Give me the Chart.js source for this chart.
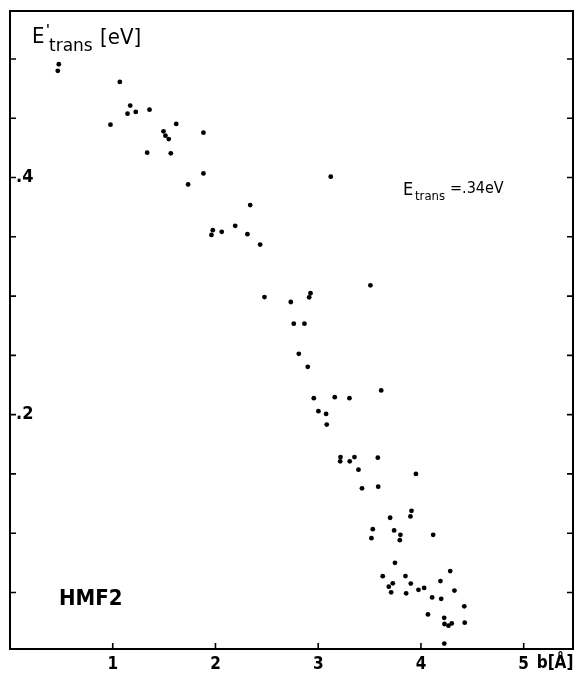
<!DOCTYPE html>
<html>
<head>
<meta charset="utf-8">
<script src="https://cdn.jsdelivr.net/npm/chart.js@4/dist/chart.umd.min.js"></script>
<style>
  html, body { margin: 0; padding: 0; background: #fff; }
  canvas { display: block; }
</style>
</head>
<body>
<canvas id="chart" width="577" height="678"></canvas>
<script>
// impact parameter b [Å]
const bValues = [
  0.475, 0.465, 1.069, 1.170, 1.144, 1.224, 1.358, 0.978, 1.618, 1.494,
  1.513, 1.545, 1.883, 1.335, 1.565, 1.883, 1.734, 2.338, 1.974, 1.961,
  2.061, 2.192, 2.311, 2.435, 3.122, 3.508, 2.477, 2.733, 2.925, 2.912,
  2.762, 2.866, 2.811, 2.898, 3.613, 2.957, 3.161, 3.304, 3.002, 3.077,
  3.083, 3.217, 3.214, 3.307, 3.353, 3.580, 3.392, 3.951, 3.426, 3.584,
  3.908, 3.898, 3.700, 3.531, 3.518, 3.739, 3.800, 3.794, 4.119, 3.747,
  3.628, 3.849, 3.726, 3.687, 3.710, 3.901, 3.856, 3.976, 4.031, 4.190,
  4.285, 4.326, 4.109, 4.197, 4.422, 4.068, 4.226, 4.229, 4.268, 4.300,
  4.426, 4.227
];
// final translational energy E'trans [eV]
const eValues = [
  0.4956, 0.4900, 0.4807, 0.4607, 0.4539, 0.4554, 0.4573, 0.4446, 0.4452, 0.4390,
  0.4353, 0.4325, 0.4379, 0.4210, 0.4204, 0.4035, 0.3942, 0.3768, 0.3556, 0.3516,
  0.3542, 0.3593, 0.3522, 0.3435, 0.4007, 0.3091, 0.2992, 0.2950, 0.3024, 0.2990,
  0.2767, 0.2767, 0.2513, 0.2403, 0.2204, 0.2139, 0.2147, 0.2139, 0.2029, 0.2006,
  0.1916, 0.1642, 0.1606, 0.1606, 0.1642, 0.1637, 0.1536, 0.1500, 0.1378, 0.1392,
  0.1189, 0.1141, 0.1130, 0.1034, 0.0958, 0.1023, 0.0986, 0.0941, 0.0986, 0.0750,
  0.0637, 0.0638, 0.0577, 0.0549, 0.0501, 0.0575, 0.0493, 0.0522, 0.0538, 0.0596,
  0.0680, 0.0516, 0.0458, 0.0446, 0.0383, 0.0315, 0.0286, 0.0234, 0.0220, 0.0239,
  0.0245, 0.0069
];
const xTicks = [1, 2, 3, 4, 5];
const xTickLabels = ['1', '2', '3', '4', '5'];
const yTicks = [0.05, 0.10, 0.15, 0.20, 0.25, 0.30, 0.35, 0.40, 0.45, 0.50];
const yTickLabels = ['', '', '', '.2', '', '', '', '.4', '', ''];

const FONT = "'DejaVu Sans Condensed', 'DejaVu Sans', sans-serif";
const FONT_WIDE = "'DejaVu Sans', sans-serif";

// frame, inward tick marks and the free text of the figure
const framePlugin = {
  id: 'frame',
  afterDraw(chart) {
    const { ctx, chartArea: a, scales: { x, y } } = chart;
    ctx.save();
    ctx.strokeStyle = '#000';
    ctx.lineWidth = 2;
    ctx.strokeRect(a.left, a.top, a.right - a.left, a.bottom - a.top);

    ctx.lineWidth = 1.6;
    y.ticks.forEach(t => {
      const py = y.getPixelForValue(t.value);
      ctx.beginPath();
      ctx.moveTo(a.left, py); ctx.lineTo(a.left + 6, py);
      ctx.moveTo(a.right, py); ctx.lineTo(a.right - 6, py);
      ctx.stroke();
    });
    x.ticks.forEach(t => {
      const px = x.getPixelForValue(t.value);
      ctx.beginPath();
      ctx.moveTo(px, a.bottom); ctx.lineTo(px, a.bottom - 6);
      ctx.stroke();
    });

    ctx.fillStyle = '#000';
    ctx.textBaseline = 'alphabetic';
    ctx.textAlign = 'left';

    // axis unit for b
    ctx.font = 'bold 17px ' + FONT;
    ctx.fillText('b[Å]', x.getPixelForValue(5) + 13, a.bottom + 19);

    // y axis title E'trans [eV]
    ctx.font = '22px ' + FONT;
    ctx.fillText('E', 32, 43);
    ctx.fillText('[eV]', 100, 44);
    ctx.font = 'bold 14px ' + FONT;
    ctx.fillText("'", 46, 34);
    ctx.font = '17px ' + FONT_WIDE;
    ctx.fillText('trans', 49, 51);

    // initial energy annotation
    ctx.font = '18px ' + FONT;
    ctx.fillText('E', 403, 195);
    ctx.font = '13px ' + FONT;
    ctx.fillText('trans', 415, 200);
    ctx.font = '16px ' + FONT;
    ctx.fillText('=.34eV', 450, 193);

    // potential label
    ctx.font = 'bold 22px ' + FONT;
    ctx.fillText('HMF2', 59, 605);
    ctx.restore();
  }
};

new Chart(document.getElementById('chart').getContext('2d'), {
  type: 'scatter',
  data: {
    datasets: [{
      data: bValues.map((b, i) => ({ x: b, y: eValues[i] })),
      backgroundColor: '#000',
      borderColor: '#000',
      pointRadius: 2.4,
      borderWidth: 0
    }]
  },
  options: {
    responsive: false,
    animation: false,
    layout: { padding: { left: 0, right: 3, top: 11, bottom: 0 } },
    plugins: { legend: { display: false }, tooltip: { enabled: false } },
    scales: {
      x: {
        type: 'linear',
        min: 0,
        max: 5.48,
        afterFit: s => { s.height = 29; },
        afterBuildTicks: s => { s.ticks = xTicks.map(v => ({ value: v })); },
        grid: { display: false, drawTicks: false },
        border: { display: false },
        ticks: {
          autoSkip: false,
          maxRotation: 0,
          padding: 5,
          color: '#000',
          font: { family: FONT, size: 17, weight: 'bold' },
          callback: (v, i) => xTickLabels[i]
        }
      },
      y: {
        type: 'linear',
        min: 0.0023,
        max: 0.5405,
        afterFit: s => { s.width = 10; s.paddingTop = 0; s.paddingBottom = 0; },
        afterBuildTicks: s => { s.ticks = yTicks.map(v => ({ value: v })); },
        grid: { display: false, drawTicks: false },
        border: { display: false },
        ticks: {
          autoSkip: false,
          mirror: true,
          padding: 6,
          color: '#000',
          font: { family: FONT, size: 18, weight: 'bold' },
          callback: (v, i) => yTickLabels[i]
        }
      }
    }
  },
  plugins: [framePlugin]
});
</script>
</body>
</html>
